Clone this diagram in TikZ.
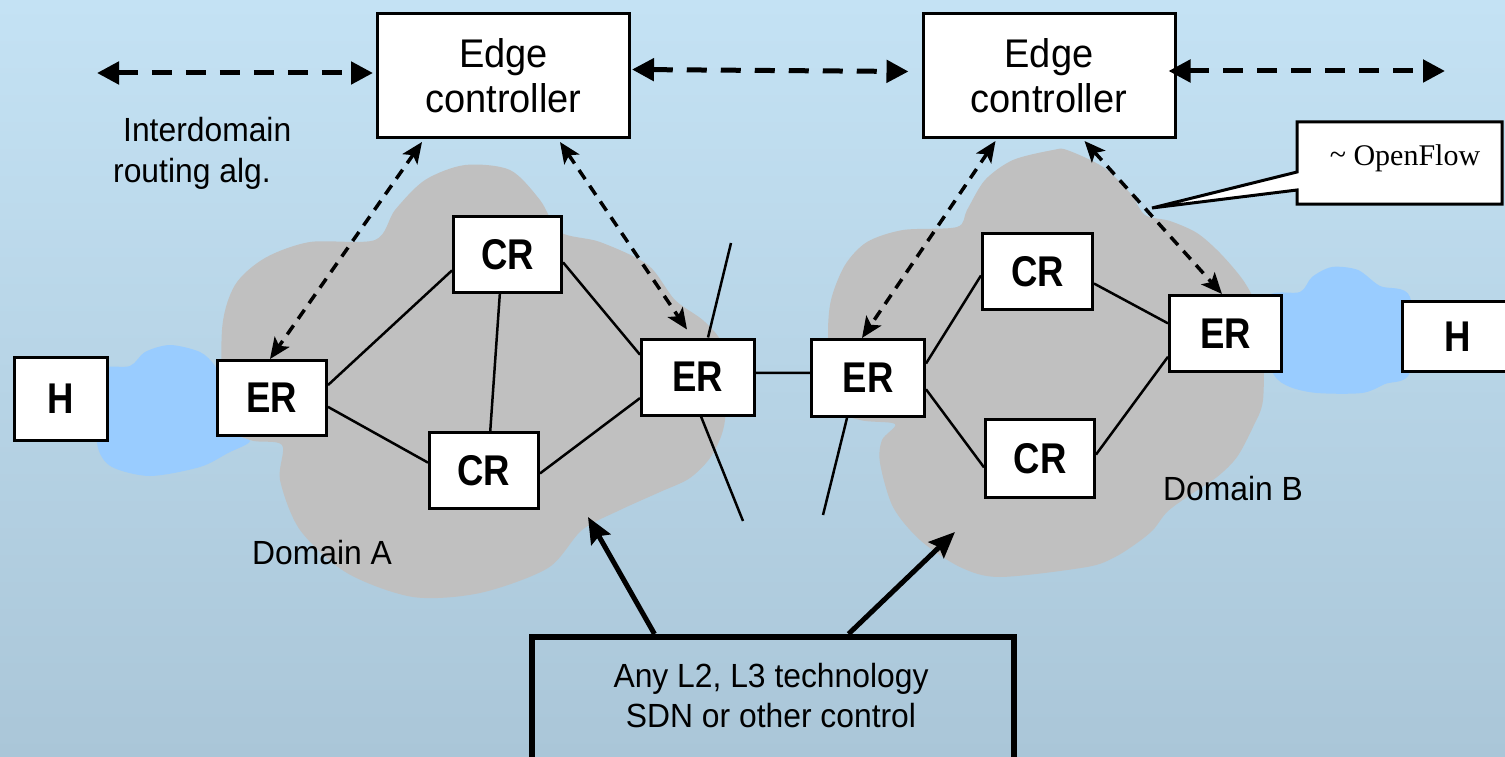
\documentclass[tikz,border=0pt]{standalone}
\usepackage{fontspec}
\setmainfont{Liberation Sans}[FakeStretch=0.95]
\newfontfamily\lblfont{Liberation Sans}[FakeStretch=0.85]
\newfontfamily\ofont{Liberation Serif}
\usetikzlibrary{arrows.meta,calc}
\definecolor{bgtop}{RGB}{196,226,244}
\definecolor{bgbot}{RGB}{170,198,216}
\definecolor{cgray}{RGB}{192,192,192}
\definecolor{cblue}{RGB}{153,204,255}
\tikzset{
  router/.style={draw=black, line width=3pt, fill=white, inner sep=0pt,
    font=\lblfont\bfseries\fontsize{43}{43}\selectfont},
  ctrl/.style={draw=black, line width=3pt, fill=white, minimum width=252pt,
    minimum height=124pt, align=center, inner sep=0pt,
    font=\fontsize{40}{45}\selectfont},
  lbl/.style={align=center, inner sep=0pt, font=\fontsize{33.5}{41}\selectfont},
  link/.style={line width=2.5pt},
  ctlarrow/.style={line width=5pt, dash pattern=on 20pt off 14pt,
    {Triangle[length=22pt,width=22pt]}-{Triangle[length=22pt,width=22pt]}},
  ofarrow/.style={line width=3.5pt, dash pattern=on 11pt off 8pt,
    {Stealth[length=21pt,width=18pt,inset=5pt]}-{Stealth[length=21pt,width=18pt,inset=5pt]}},
  techarrow/.style={line width=5pt, -{Stealth[length=26pt,width=22pt,inset=4pt]}},
}
\begin{document}
\begin{tikzpicture}[x=1pt,y=-1pt]
\useasboundingbox (0,0) rectangle (1505,757);
\clip (0,0) rectangle (1505,757);
\shade[top color=bgtop, bottom color=bgbot] (0,0) rectangle (1505,757);

% light blue clouds
\fill[cblue] plot[smooth cycle, tension=0.5] coordinates {
  (100,370) (130,366) (145,352) (170,345) (200,352) (215,366) (222,385)
  (228,430) (250,441) (228,453) (200,467) (150,476) (112,467) (98,448) (96,410)};
\fill[cblue] plot[smooth cycle, tension=0.5] coordinates {
  (1268,296) (1300,292) (1312,277) (1332,267) (1358,270) (1380,286) (1410,297)
  (1410,372) (1385,384) (1362,393) (1317,393) (1290,387) (1274,375) (1262,340)};

% gray clouds
\fill[cgray] plot[smooth cycle, tension=0.5] coordinates {
  (222,330) (235,285) (265,258) (310,242) (375,240) (395,210) (425,180)
  (465,165) (510,170) (540,200) (560,232) (600,242) (648,265) (675,300)
  (705,322) (724,350) (725,420) (712,455) (690,478) (660,492) (620,510)
  (582,530) (548,568) (480,593) (413,597) (347,573) (300,530) (280,480)
  (282,445) (250,440) (225,420)};
\fill[cgray] plot[smooth cycle, tension=0.5] coordinates {
  (828,338) (831,300) (845,265) (867,242) (903,230) (957,227) (967,210)
  (985,180) (1013,160) (1053,150) (1067,150) (1103,167) (1130,193)
  (1145,215) (1170,221) (1197,233) (1220,253) (1243,280) (1256,305)
  (1263,340) (1263,400) (1253,427) (1237,457) (1217,477) (1187,497)
  (1167,512) (1153,530) (1137,543) (1115,557) (1087,567) (1000,577)
  (960,567) (920,540) (893,507) (880,463) (882,440) (895,424) (860,420) (832,405)};

% routers and hosts
\node[router, minimum width=93pt, minimum height=83pt] (hA) at (61,399) {H};
\node[router, minimum width=109pt, minimum height=75pt] (erA1) at (272,398) {ER};
\node[router, minimum width=108pt, minimum height=76pt] (crA1) at (507.5,254.5) {CR};
\node[router, minimum width=109pt, minimum height=76pt] (crA2) at (484,470.5) {CR};
\node[router, minimum width=113pt, minimum height=76pt] (erA2) at (698,377) {ER};
\node[router, minimum width=113pt, minimum height=77pt] (erB1) at (868,378) {ER};
\node[router, minimum width=110pt, minimum height=76pt] (crB1) at (1037.5,271.5) {CR};
\node[router, minimum width=109pt, minimum height=78pt] (crB2) at (1040,458.5) {CR};
\node[router, minimum width=112pt, minimum height=76pt] (erB2) at (1225.5,333.5) {ER};
\node[router, minimum width=118pt, minimum height=70pt, text width=118pt, align=left] (hB) at (1461,336.5) {\hspace*{42pt}H};

% edge controllers
\node[ctrl] (ecA) at (503.5,75.5) {Edge\\controller};
\node[ctrl] (ecB) at (1049,75.5) {Edge\\controller};

% labels
\node[lbl, align=left, anchor=west] (ida) at (113,153) {\hspace*{10pt}Interdomain\\routing alg.};
\node[lbl] (domA) at (322,553) {Domain A};
\node[lbl] (domB) at (1233,489) {Domain B};

% links
\draw[link] (erA1.13) -- (crA1.196);
\draw[link] (erA1.-9) -- (crA2.172);
\draw[link] (crA1.259) -- (crA2.81);
\draw[link] (crA1.-8) -- (erA2.159);
\draw[link] (crA2.-3) -- (erA2.200);
\draw[link] (erA2.4) -- (erB1.175);
\draw[link] (erB1.14) -- (crB1.184);
\draw[link] (erB1.-11) -- (crB2.189);
\draw[link] (crB1.-12) -- (erB2.170);
\draw[link] (crB2.4) -- (erB2.202);

% domain cut lines
\coordinate (cutA1) at (731,243);
\coordinate (cutA2) at (743,521);
\coordinate (cutB) at (823,515);
\draw[link] (cutA1) -- ($(erA2.north west)+(68,0)$);
\draw[link] ($(erA2.south west)+(61,0)$) -- (cutA2);
\draw[link] ($(erB1.south west)+(37,0)$) -- (cutB);

% controller to controller arrows
\coordinate (leftEnd) at (97,73);
\coordinate (rightEnd) at (1445,71);
\draw[ctlarrow] (leftEnd) -- ($(ecA.west)+(-3,-2.5)$);
\draw[ctlarrow] ($(ecA.east)+(1,-6)$) -- ($(ecB.west)+(-13,-4)$);
\draw[ctlarrow] ($(ecB.east)+(-8,-4.5)$) -- (rightEnd);

% controller to edge router arrows
\draw[ofarrow] ($(ecA.south west)+(46,3)$) -- ($(erA1.north west)+(54,0)$);
\draw[ofarrow] ($(ecA.south west)+(184,3)$) -- ($(erA2.north west)+(47,-8)$);
\draw[ofarrow] ($(ecB.south west)+(74,2)$) -- ($(erB1.north west)+(52,0)$);
\draw[ofarrow] ($(ecB.south west)+(163,2)$) -- ($(erB2.north west)+(54,0)$);

% OpenFlow callout
\draw[line width=3pt, fill=white] (1297,122) -- (1502,122) -- (1502,204)
  -- (1297,204) -- (1297,190) -- (1152,208) -- (1297,172) -- cycle;
\node[inner sep=0pt, font=\ofont\fontsize{30}{30}\selectfont] (ofl) at (1405,158) {\raisebox{1pt}{\textasciitilde} OpenFlow};

% technology box
\node[draw=black, line width=6pt, minimum width=482pt, minimum height=150pt, inner sep=0pt] (tech) at (772.5,712) {};
\node[lbl, font=\fontsize{33.5}{40}\selectfont] (techlbl) at (771,696) {Any L2, L3 technology\\SDN or other control};
\coordinate (ptA) at (588,517);
\coordinate (ptB) at (955,532);
\draw[techarrow] ($(tech.north west)+(126,0)$) -- (ptA);
\draw[techarrow] ($(tech.north west)+(320,0)$) -- (ptB);
\end{tikzpicture}
\end{document}
